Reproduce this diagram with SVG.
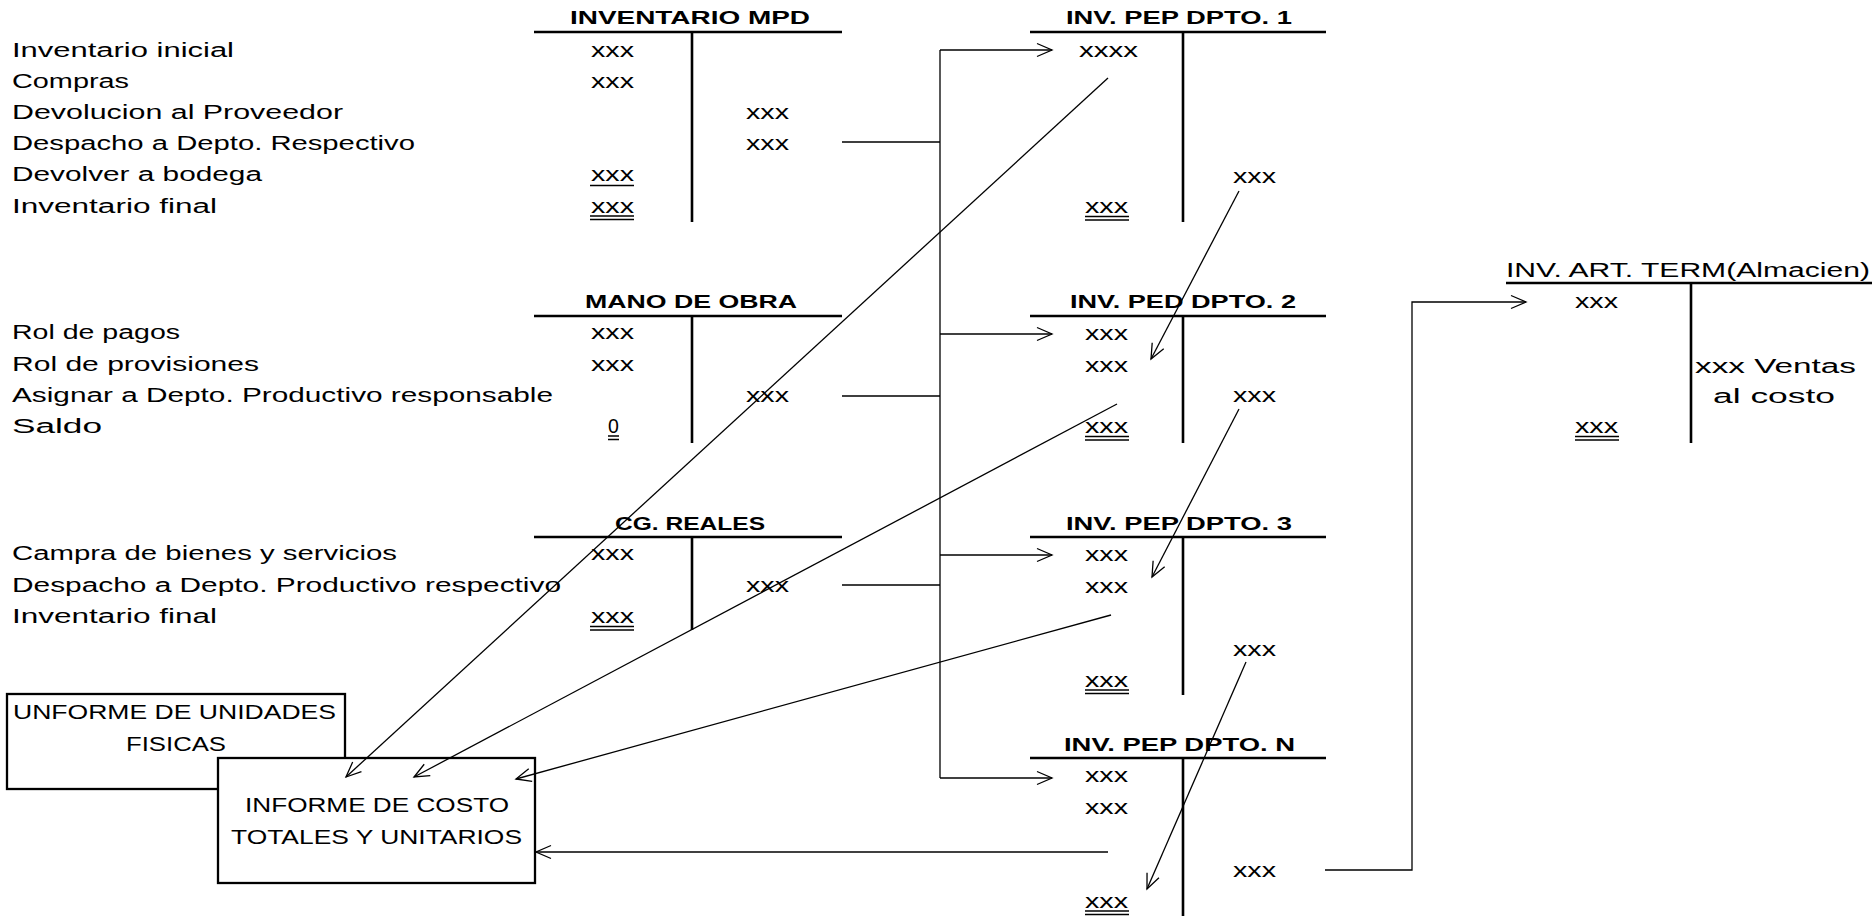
<svg xmlns="http://www.w3.org/2000/svg" width="1872" height="916" viewBox="0 0 1872 916">
<style>
  text { font-family: "Liberation Sans", Arial, sans-serif; font-size: 19.5px; fill: #000; }
  .ttl { font-weight: bold; font-size: 19px; }
  .tl { stroke: #000; stroke-width: 2.6; fill: none; }
  .u { stroke: #000; stroke-width: 1.4; }
  .box { fill: #fff; stroke: #000; stroke-width: 2.3; }
  .c { stroke: #000; stroke-width: 1.3; fill: none; }
  .a { stroke: #000; stroke-width: 1.3; fill: none; marker-end: url(#ah); }
</style>
<defs>
  <marker id="ah" viewBox="-17 -9 19 18" markerWidth="19" markerHeight="18" refX="0" refY="0" orient="auto" markerUnits="userSpaceOnUse">
    <path d="M-15,-6.5 L0,0 L-15,6.5" fill="none" stroke="#000" stroke-width="1.3"/>
  </marker>
</defs>
<rect width="1872" height="916" fill="#fff"/>

<!-- Inventario de materia prima directa -->
<g id="inventario-mpd">
  <text class="ttl" x="570" y="24" textLength="240" lengthAdjust="spacingAndGlyphs">INVENTARIO MPD</text>
  <path class="tl" d="M534,32 H842 M692,32 V222"/>
  <text x="12" y="56.5" textLength="222" lengthAdjust="spacingAndGlyphs">Inventario inicial</text>
  <text x="12" y="87.5" textLength="117" lengthAdjust="spacingAndGlyphs">Compras</text>
  <text x="12" y="118.8" textLength="331" lengthAdjust="spacingAndGlyphs">Devolucion al Proveedor</text>
  <text x="12" y="150" textLength="403" lengthAdjust="spacingAndGlyphs">Despacho a Depto. Respectivo</text>
  <text x="12" y="181.2" textLength="250" lengthAdjust="spacingAndGlyphs">Devolver a bodega</text>
  <text x="12" y="212.7" textLength="205" lengthAdjust="spacingAndGlyphs">Inventario final</text>
  <text x="591" y="56.5" textLength="43" lengthAdjust="spacingAndGlyphs">xxx</text>
  <text x="591" y="87.5" textLength="43" lengthAdjust="spacingAndGlyphs">xxx</text>
  <text x="746" y="118.8" textLength="43" lengthAdjust="spacingAndGlyphs">xxx</text>
  <text x="746" y="150" textLength="43" lengthAdjust="spacingAndGlyphs">xxx</text>
  <text x="591" y="181.2" textLength="43" lengthAdjust="spacingAndGlyphs">xxx</text>
  <path class="u" d="M590,185.5 H634"/>
  <text x="591" y="212.7" textLength="43" lengthAdjust="spacingAndGlyphs">xxx</text>
  <path class="u" d="M590,216 H634 M590,219.5 H634"/>
</g>

<!-- Mano de obra -->
<g id="mano-de-obra">
  <text class="ttl" x="585" y="307.7" textLength="212" lengthAdjust="spacingAndGlyphs">MANO DE OBRA</text>
  <path class="tl" d="M534,316 H842 M692,316 V443"/>
  <text x="12" y="339" textLength="168" lengthAdjust="spacingAndGlyphs">Rol de pagos</text>
  <text x="12" y="371" textLength="247" lengthAdjust="spacingAndGlyphs">Rol de provisiones</text>
  <text x="12" y="402" textLength="541" lengthAdjust="spacingAndGlyphs">Asignar a Depto. Productivo responsable</text>
  <text x="12" y="433" textLength="90" lengthAdjust="spacingAndGlyphs">Saldo</text>
  <text x="591" y="339" textLength="43" lengthAdjust="spacingAndGlyphs">xxx</text>
  <text x="591" y="371" textLength="43" lengthAdjust="spacingAndGlyphs">xxx</text>
  <text x="746" y="402" textLength="43" lengthAdjust="spacingAndGlyphs">xxx</text>
  <text x="608" y="433">0</text>
  <path class="u" d="M608,436 H619 M608,439.5 H619"/>
</g>

<!-- Costos generales reales -->
<g id="cg-reales">
  <text class="ttl" x="615" y="530" textLength="150" lengthAdjust="spacingAndGlyphs">CG. REALES</text>
  <path class="tl" d="M534,537 H842 M692,537 V630"/>
  <text x="12" y="560" textLength="385" lengthAdjust="spacingAndGlyphs">Campra de bienes y servicios</text>
  <text x="12" y="591.7" textLength="549" lengthAdjust="spacingAndGlyphs">Despacho a Depto. Productivo respectivo</text>
  <text x="12" y="623.3" textLength="205" lengthAdjust="spacingAndGlyphs">Inventario final</text>
  <text x="591" y="560" textLength="43" lengthAdjust="spacingAndGlyphs">xxx</text>
  <text x="746" y="591.7" textLength="43" lengthAdjust="spacingAndGlyphs">xxx</text>
  <text x="591" y="623.3" textLength="43" lengthAdjust="spacingAndGlyphs">xxx</text>
  <path class="u" d="M590,626.5 H634 M590,630 H634"/>
</g>

<!-- Inventario productos en proceso, departamento 1 -->
<g id="inv-pep-dpto-1">
  <text class="ttl" x="1066" y="24" textLength="226" lengthAdjust="spacingAndGlyphs">INV. PEP DPTO. 1</text>
  <path class="tl" d="M1030,32 H1326 M1183,32 V222"/>
  <text x="1079" y="56.5" textLength="59" lengthAdjust="spacingAndGlyphs">xxxx</text>
  <text x="1233" y="182.5" textLength="43" lengthAdjust="spacingAndGlyphs">xxx</text>
  <text x="1085" y="213" textLength="43" lengthAdjust="spacingAndGlyphs">xxx</text>
  <path class="u" d="M1085,216.5 H1129 M1085,220 H1129"/>
</g>

<!-- Departamento 2 -->
<g id="inv-ped-dpto-2">
  <text class="ttl" x="1070" y="308.3" textLength="226" lengthAdjust="spacingAndGlyphs">INV. PED DPTO. 2</text>
  <path class="tl" d="M1030,316 H1326 M1183,316 V443"/>
  <text x="1085" y="339.5" textLength="43" lengthAdjust="spacingAndGlyphs">xxx</text>
  <text x="1085" y="371.5" textLength="43" lengthAdjust="spacingAndGlyphs">xxx</text>
  <text x="1233" y="402" textLength="43" lengthAdjust="spacingAndGlyphs">xxx</text>
  <text x="1085" y="433" textLength="43" lengthAdjust="spacingAndGlyphs">xxx</text>
  <path class="u" d="M1085,436.5 H1129 M1085,440 H1129"/>
</g>

<!-- Departamento 3 -->
<g id="inv-pep-dpto-3">
  <text class="ttl" x="1066" y="529.5" textLength="226" lengthAdjust="spacingAndGlyphs">INV. PEP DPTO. 3</text>
  <path class="tl" d="M1030,537 H1326 M1183,537 V695"/>
  <text x="1085" y="560.5" textLength="43" lengthAdjust="spacingAndGlyphs">xxx</text>
  <text x="1085" y="592.5" textLength="43" lengthAdjust="spacingAndGlyphs">xxx</text>
  <text x="1233" y="656" textLength="43" lengthAdjust="spacingAndGlyphs">xxx</text>
  <text x="1085" y="686.5" textLength="43" lengthAdjust="spacingAndGlyphs">xxx</text>
  <path class="u" d="M1085,690 H1129 M1085,693.5 H1129"/>
</g>

<!-- Departamento N -->
<g id="inv-pep-dpto-n">
  <text class="ttl" x="1064" y="750.5" textLength="231" lengthAdjust="spacingAndGlyphs">INV. PEP DPTO. N</text>
  <path class="tl" d="M1030,758 H1326 M1183,758 V916"/>
  <text x="1085" y="782" textLength="43" lengthAdjust="spacingAndGlyphs">xxx</text>
  <text x="1085" y="814" textLength="43" lengthAdjust="spacingAndGlyphs">xxx</text>
  <text x="1233" y="877.3" textLength="43" lengthAdjust="spacingAndGlyphs">xxx</text>
  <text x="1085" y="907.5" textLength="43" lengthAdjust="spacingAndGlyphs">xxx</text>
  <path class="u" d="M1085,911 H1129 M1085,914.5 H1129"/>
</g>

<!-- Inventario de articulos terminados -->
<g id="inv-art-term">
  <text x="1506" y="277" textLength="364" lengthAdjust="spacingAndGlyphs">INV. ART. TERM(Almacien)</text>
  <path class="tl" d="M1506,283 H1872 M1691,283 V443"/>
  <text x="1575" y="307.7" textLength="43" lengthAdjust="spacingAndGlyphs">xxx</text>
  <text x="1695" y="372.7" textLength="161" lengthAdjust="spacingAndGlyphs">xxx Ventas</text>
  <text x="1713" y="402.7" textLength="122" lengthAdjust="spacingAndGlyphs">al costo</text>
  <text x="1575" y="433" textLength="43" lengthAdjust="spacingAndGlyphs">xxx</text>
  <path class="u" d="M1575,436.5 H1619 M1575,440 H1619"/>
</g>

<!-- Informes -->
<g id="informe-unidades">
  <rect class="box" x="7" y="694" width="338" height="95"/>
  <text x="13" y="719.3" textLength="323" lengthAdjust="spacingAndGlyphs">UNFORME DE UNIDADES</text>
  <text x="126" y="751" textLength="100" lengthAdjust="spacingAndGlyphs">FISICAS</text>
</g>
<g id="informe-costo">
  <rect class="box" x="218" y="758" width="317" height="125"/>
  <text x="245" y="811.7" textLength="264" lengthAdjust="spacingAndGlyphs">INFORME DE COSTO</text>
  <text x="231" y="844" textLength="291" lengthAdjust="spacingAndGlyphs">TOTALES Y UNITARIOS</text>
</g>

<!-- Flujo de costos -->
<g id="connectors">
  <path class="c" d="M842,142 H940 M842,396 H940 M842,585 H940 M940,50 V778"/>
  <path class="a" d="M940,50 H1052"/>
  <path class="a" d="M940,334 H1052"/>
  <path class="a" d="M940,555 H1052"/>
  <path class="a" d="M940,778 H1052"/>
  <path class="a" d="M1108,78 L346,777"/>
  <path class="a" d="M1239,191 L1151,359"/>
  <path class="a" d="M1117,404 L414,777"/>
  <path class="a" d="M1239,409 L1152,577"/>
  <path class="a" d="M1111,615 L516,779"/>
  <path class="a" d="M1246,662 L1147,889"/>
  <path class="a" d="M1108,852 L536,852"/>
  <path class="a" d="M1325,870 H1412 V302 H1526"/>
</g>
</svg>
